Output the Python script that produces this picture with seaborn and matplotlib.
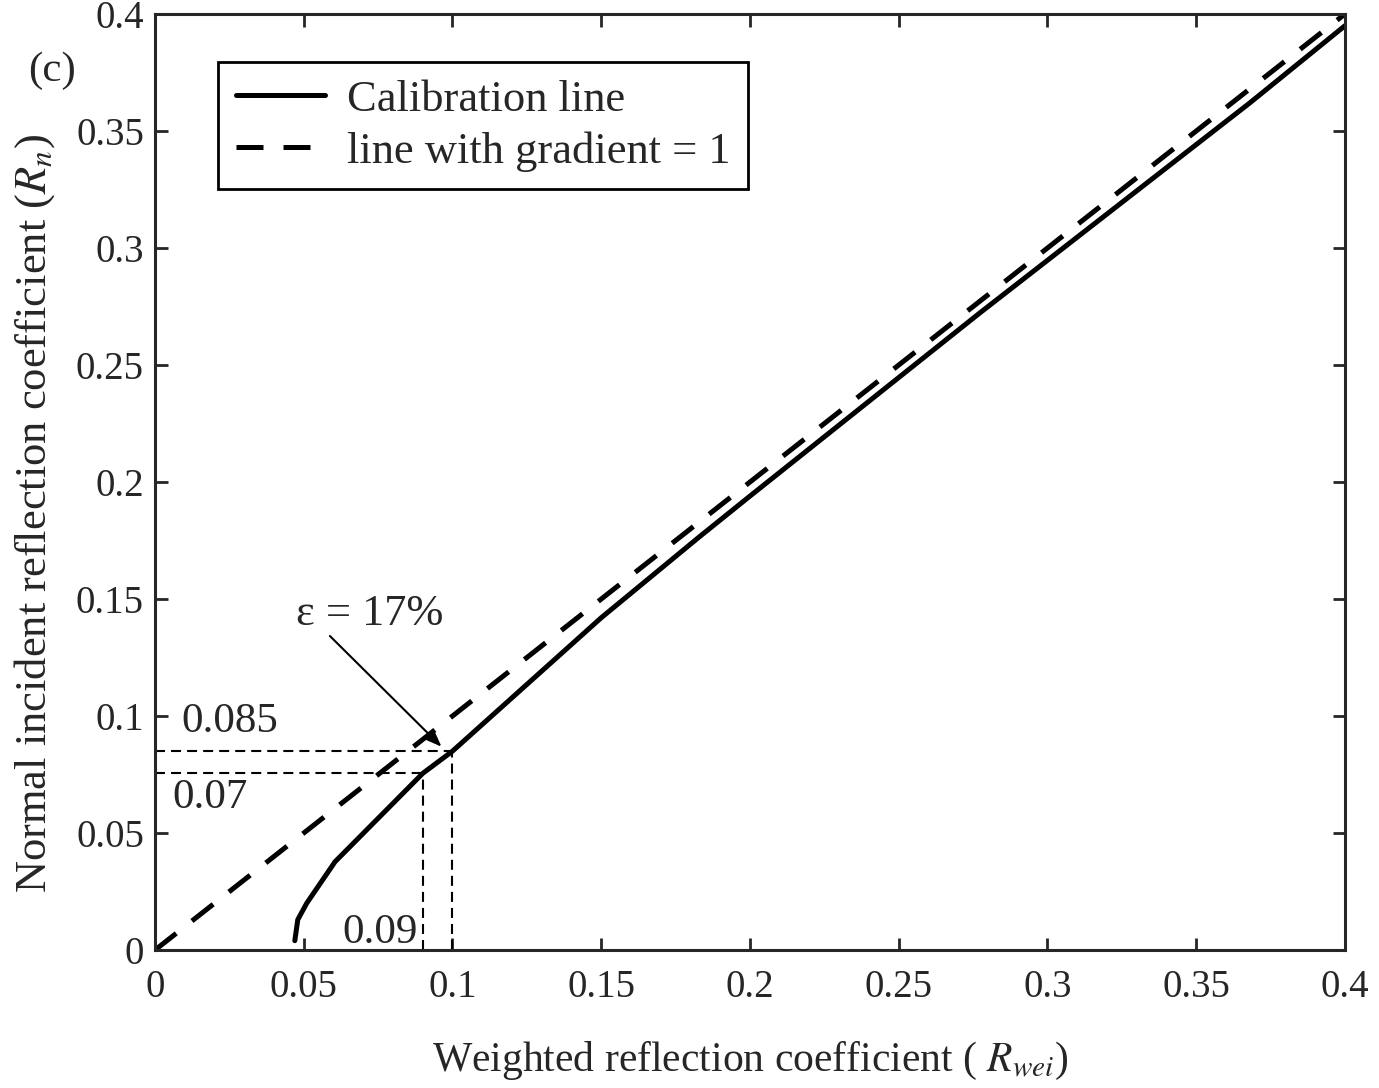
import matplotlib
matplotlib.use("Agg")
import matplotlib.pyplot as plt
import seaborn as sns
import pandas as pd

# Data
calib_x = [0.047, 0.048, 0.051, 0.0605, 0.090, 0.100, 0.150, 0.183, 0.200, 0.277, 0.368, 0.400]
calib_y = [0.004, 0.013, 0.020, 0.0377, 0.0755, 0.085, 0.142, 0.1766, 0.194, 0.272, 0.362, 0.395]
unit_x = [0.0, 0.4]
unit_y = [0.0, 0.4]
xticks = [0, 0.05, 0.1, 0.15, 0.2, 0.25, 0.3, 0.35, 0.4]
yticks = [0, 0.05, 0.1, 0.15, 0.2, 0.25, 0.3, 0.35, 0.4]
xtick_labels = ["0", "0.05", "0.1", "0.15", "0.2", "0.25", "0.3", "0.35", "0.4"]
ytick_labels = ["0", "0.05", "0.1", "0.15", "0.2", "0.25", "0.3", "0.35", "0.4"]
mark_a = (0.100, 0.085)
mark_b = (0.090, 0.0755)

sns.set_style("ticks")
plt.rcParams['font.family'] = ['Liberation Serif', 'DejaVu Serif']
plt.rcParams['mathtext.fontset'] = 'stix'

fig = plt.figure(figsize=(13.79, 10.88), dpi=100)
ax = fig.add_axes([0.1124, 0.1268, 0.8629, 0.8603])

df_c = pd.DataFrame({"x": calib_x, "y": calib_y})
df_u = pd.DataFrame({"x": unit_x, "y": unit_y})

sns.lineplot(data=df_c, x="x", y="y", ax=ax, color="black", lw=3.6,
             label="Calibration line", sort=False, estimator=None)
sns.lineplot(data=df_u, x="x", y="y", ax=ax, color="black", lw=3.6,
             label="line with gradient = 1", sort=False, estimator=None)
ax.lines[1].set_dashes([5.4, 4.0])
ax.lines[1].set_dash_capstyle("butt")

# guide lines
kw = dict(color="black", lw=1.5, dashes=[4.8, 2.9])
ax.plot([0, mark_a[0]], [mark_a[1], mark_a[1]], **kw)
ax.plot([mark_a[0], mark_a[0]], [0, mark_a[1]], **kw)
ax.plot([0, mark_b[0]], [mark_b[1], mark_b[1]], **kw)
ax.plot([mark_b[0], mark_b[0]], [0, mark_b[1]], **kw)

ax.text(0.0090, 0.0975, "0.085", fontsize=31, va="center", ha="left")
ax.text(0.0060, 0.0650, "0.07", fontsize=31, va="center", ha="left")
ax.text(0.0630, 0.0075, "0.09", fontsize=31, va="center", ha="left")

ax.annotate("", xy=(0.0963, 0.0869), xytext=(0.0588, 0.1342),
            arrowprops=dict(arrowstyle="-|>,head_length=0.9,head_width=0.35",
                            color="black", lw=1.5, shrinkA=0, shrinkB=0))
ax.text(0.0720, 0.1435, "ε = 17%", fontsize=32, ha="center", va="center")

ax.set_xlim(0, 0.4)
ax.set_ylim(0, 0.4)
ax.set_xticks(xticks)
ax.set_xticklabels(xtick_labels)
ax.set_yticks(yticks)
ax.set_yticklabels(ytick_labels)
ax.tick_params(axis="both", direction="in", length=9, width=2, labelsize=28,
               top=True, right=True)
ax.tick_params(axis="y", pad=8)
ax.tick_params(axis="x", pad=14)
for s in ax.spines.values():
    s.set_linewidth(2.2)
    s.set_visible(True)

ax.set_xlabel("Weighted reflection coefficient ( $R_{wei}$)", fontsize=30, labelpad=24)
ax.set_ylabel("Normal incident reflection coefficient ($R_n$)", fontsize=32)
ax.yaxis.set_label_coords(-0.082, 0.466)

leg = ax.legend(loc="upper left", bbox_to_anchor=(0.053, 0.9487), fontsize=32,
                frameon=True, fancybox=False, edgecolor="black", framealpha=1,
                handlelength=2.0, borderpad=0.4, labelspacing=0.25,
                handletextpad=0.5, borderaxespad=0)
leg.get_frame().set_linewidth(2.0)

fig.text(0.038, 0.935, "(c)", fontsize=31, ha="center", va="center")

fig.savefig("out.png", dpi=100)
